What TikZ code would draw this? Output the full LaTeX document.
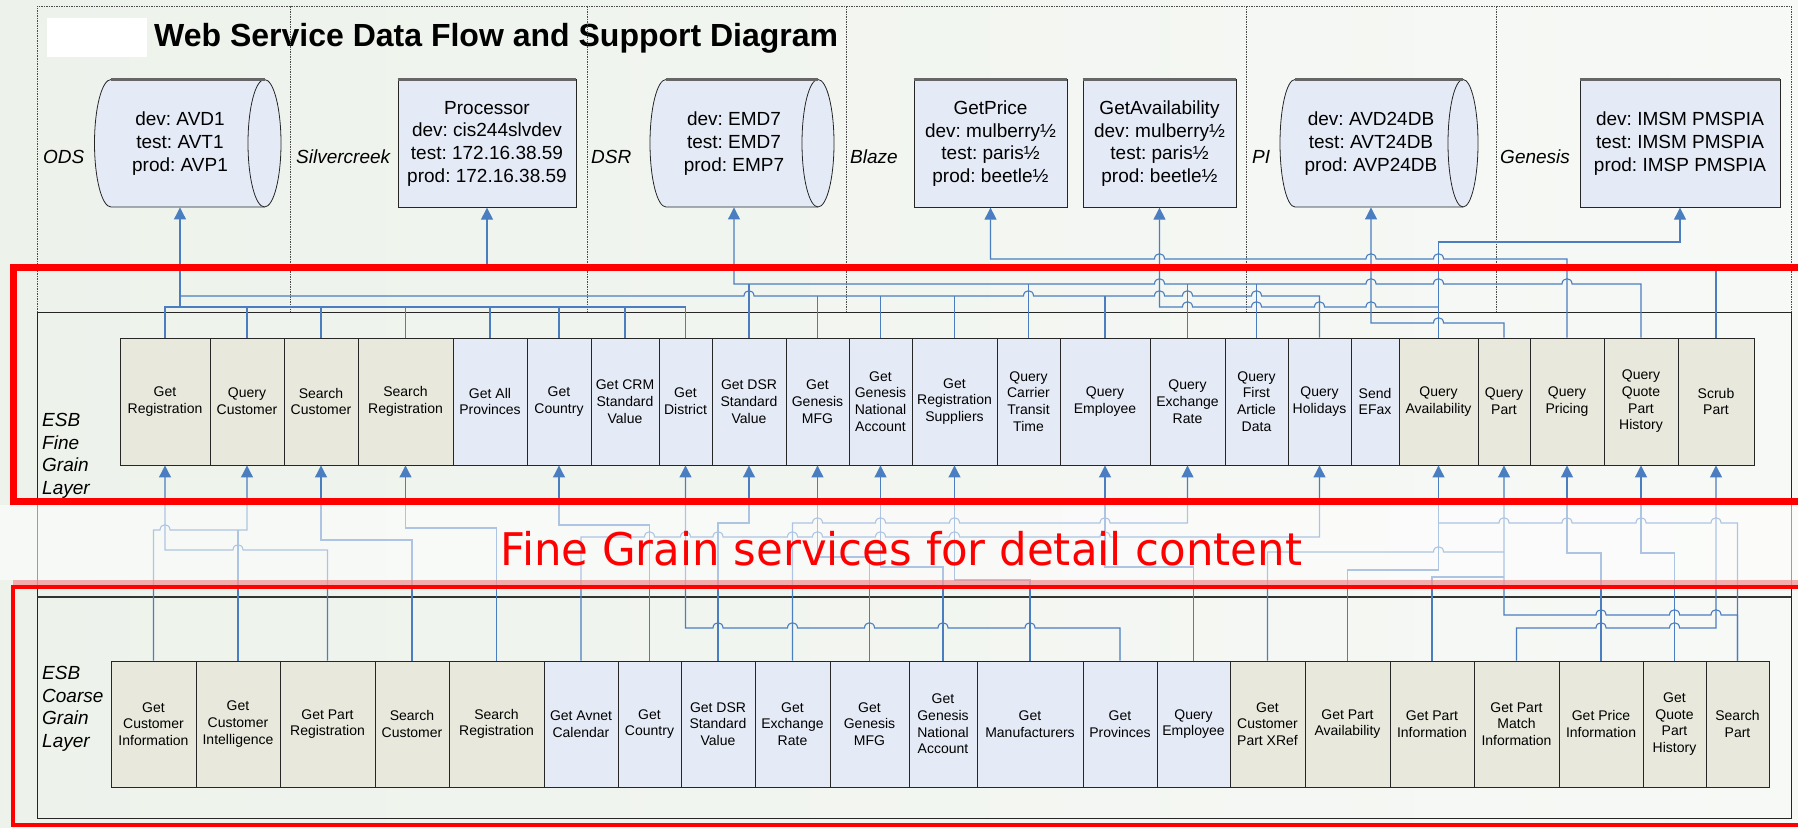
\documentclass[tikz,border=0pt]{standalone}
\usepackage{fontspec}
\usepackage{graphicx}
\setmainfont{Liberation Sans}
\newfontfamily\redfont{DejaVu Sans}
\usetikzlibrary{arrows.meta}
\frenchspacing
\definecolor{bgL}{HTML}{EDF2EB}
\definecolor{bgR}{HTML}{F7F9F6}
\definecolor{beige}{HTML}{E8E9DC}
\definecolor{lblue}{HTML}{E5EBF6}
\definecolor{cblue}{HTML}{4A7EC0}
\definecolor{pinkband}{HTML}{F2A0A0}

\newcommand{\hp}[2]{-- ({#1-5},#2) .. controls ({#1-5},{#2-7}) and ({#1+5},{#2-7}) .. ({#1+5},#2)}
\newcommand{\fsvc}[5]{\node[svc,fill=#4,minimum width={(#3-#2)*1pt},minimum height=127pt] (#1) at ({(#2+#3)/2},401.5) {#5};}
\newcommand{\csvc}[5]{\node[svc,fill=#4,minimum width={(#3-#2)*1pt},minimum height=126pt] (#1) at ({(#2+#3)/2},724) {#5};}
\newcommand{\cyl}[3]{%
  \filldraw[fill=lblue, draw=black!85, line width=0.8pt] (#1,79.5) -- (#2,79.5)
     arc[start angle=90, end angle=-90, x radius=#3pt, y radius=63.75pt] -- (#1,207)
     arc[start angle=270, end angle=90, x radius=#3pt, y radius=63.75pt] -- cycle;
  \draw[black!85, line width=0.8pt] (#2,79.5) arc[start angle=90, end angle=270, x radius=#3pt, y radius=63.75pt];
  \draw[black!60, line width=2.5pt] (#1,79.5) -- (#2,79.5);}
\newcommand{\topedge}[2]{\draw[black!60, line width=2.5pt] (#1.north west) -- (#1.north east);}

\begin{document}
\begin{tikzpicture}[x=1pt,y=-1pt,
  svc/.style={draw=black!85, line width=0.9pt, inner sep=0pt, align=center, font=\fontsize{14}{16.7}\selectfont},
  src/.style={inner sep=0pt, align=center, minimum height=127.5pt, font=\fontsize{19}{22.7}\selectfont},
  srcbox/.style={src, draw=black!85, line width=0.8pt, fill=lblue},
  conn/.style={draw=cblue, line width=1.1pt},
  >={Triangle[length=12pt,width=12pt]},
  lbl/.style={font=\fontsize{19}{22.6}\selectfont\itshape, align=left, inner sep=0pt},
  frame/.style={draw=black!70, line width=0.7pt, dash pattern=on 1.5pt off 1pt}]
\useasboundingbox (0,0) rectangle (1798,827);
\clip (0,0) rectangle (1798,827);
\shade[left color=bgL, right color=bgR] (0,0) rectangle (1798,827);
\fill[white] (47,18) rectangle (147,57);

% title
\node[anchor=base west, inner sep=0pt, font=\fontsize{32}{36}\selectfont\bfseries] (title) at (154,46) {Web Service Data Flow and Support Diagram};

% frames
\draw[frame] (37,312) -- (37,6) -- (1791,6) -- (1791,312);
\foreach \x in {290,587,846,1246,1496} \draw[frame] (\x,6) -- (\x,312);
\draw[black!85, line width=1pt] (37,312) rectangle (1791,597);
\draw[black!85, line width=1pt] (37,597) rectangle (1791,818);
\draw[black!80, line width=2pt] (37,597) -- (1791,597);

% labels
\node[lbl, anchor=west] (lfine) at (42,456) {ESB\\Fine\\Grain\\Layer};
\node[lbl, anchor=west] (lcoarse) at (42,709) {ESB\\Coarse\\Grain\\Layer};
\node[lbl, anchor=west] (lods) at (43,157) {ODS};
\node[lbl, anchor=west] (lsil) at (296,157) {Silvercreek};
\node[lbl, anchor=west] (ldsr) at (591,157) {DSR};
\node[lbl, anchor=west] (lblaze) at (850,157) {Blaze};
\node[lbl, anchor=west] (lpi) at (1252,157) {PI};
\node[lbl, anchor=west] (lgen) at (1500,157) {Genesis};

% sources
\cyl{111}{264.5}{16.5}
\node[src] (ods) at (180,143.5) {dev: AVD1\\test: AVT1\\prod: AVP1};
\node[srcbox, minimum width=178pt] (proc) at (487,143.5) {Processor\\dev: cis244slvdev\\test: 172.16.38.59\\prod: 172.16.38.59};
\topedge{proc}{}
\cyl{666}{818}{16}
\node[src] (dsr) at (734,143.5) {dev: EMD7\\test: EMD7\\prod: EMP7};
\node[srcbox, minimum width=153pt] (gprice) at (990.5,143.5) {GetPrice\\dev: mulberry½\\test: paris½\\prod: beetle½};
\topedge{gprice}{}
\node[srcbox, minimum width=153pt] (gavail) at (1159.5,143.5) {GetAvailability\\dev: mulberry½\\test: paris½\\prod: beetle½};
\topedge{gavail}{}
\cyl{1295}{1463}{15}
\node[src] (pi) at (1371,143.5) {dev: AVD24DB\\test: AVT24DB\\prod: AVP24DB};
\node[srcbox, minimum width=200pt] (gen) at (1680,143.5) {dev: IMSM PMSPIA\\test: IMSM PMSPIA\\prod: IMSP PMSPIA};
\topedge{gen}{}

% fine grain services
\fsvc{f1}{120}{210}{beige}{Get\\Registration}
\fsvc{f2}{210}{284}{beige}{Query\\Customer}
\fsvc{f3}{284}{358}{beige}{Search\\Customer}
\fsvc{f4}{358}{453}{beige}{Search\\Registration}
\fsvc{f5}{453}{527}{lblue}{Get All\\Provinces}
\fsvc{f6}{527}{591}{lblue}{Get\\Country}
\fsvc{f7}{591}{659}{lblue}{Get CRM\\Standard\\Value}
\fsvc{f8}{659}{712}{lblue}{Get\\District}
\fsvc{f9}{712}{786}{lblue}{Get DSR\\Standard\\Value}
\fsvc{f10}{786}{849}{lblue}{Get\\Genesis\\MFG}
\fsvc{f11}{849}{912}{lblue}{Get\\Genesis\\National\\Account}
\fsvc{f12}{912}{997}{lblue}{Get\\Registration\\Suppliers}
\fsvc{f13}{997}{1060}{lblue}{Query\\Carrier\\Transit\\Time}
\fsvc{f14}{1060}{1150}{lblue}{Query\\Employee}
\fsvc{f15}{1150}{1225}{lblue}{Query\\Exchange\\Rate}
\fsvc{f16}{1225}{1288}{lblue}{Query\\First\\Article\\Data}
\fsvc{f17}{1288}{1351}{lblue}{Query\\Holidays}
\fsvc{f18}{1351}{1399}{lblue}{Send\\EFax}
\fsvc{f19}{1399}{1478}{beige}{Query\\Availability}
\fsvc{f20}{1478}{1530}{beige}{Query\\Part}
\fsvc{f21}{1530}{1604}{beige}{Query\\Pricing}
\fsvc{f22}{1604}{1678}{beige}{Query\\Quote\\Part\\History}
\fsvc{f23}{1678}{1754}{beige}{Scrub\\Part}

% coarse grain services
\csvc{c1}{111}{196}{beige}{Get\\Customer\\Information}
\csvc{c2}{196}{280}{beige}{Get\\Customer\\Intelligence}
\csvc{c3}{280}{375}{beige}{Get Part\\Registration}
\csvc{c4}{375}{449}{beige}{Search\\Customer}
\csvc{c5}{449}{544}{beige}{Search\\Registration}
\csvc{c6}{544}{618}{lblue}{Get Avnet\\Calendar}
\csvc{c7}{618}{681}{lblue}{Get\\Country}
\csvc{c8}{681}{755}{lblue}{Get DSR\\Standard\\Value}
\csvc{c9}{755}{830}{lblue}{Get\\Exchange\\Rate}
\csvc{c10}{830}{909}{lblue}{Get\\Genesis\\MFG}
\csvc{c11}{909}{977}{lblue}{Get\\Genesis\\National\\Account}
\csvc{c12}{977}{1083}{lblue}{Get\\Manufacturers}
\csvc{c13}{1083}{1157}{lblue}{Get\\Provinces}
\csvc{c14}{1157}{1230}{lblue}{Query\\Employee}
\csvc{c15}{1230}{1305}{beige}{Get\\Customer\\Part XRef}
\csvc{c16}{1305}{1390}{beige}{Get Part\\Availability}
\csvc{c17}{1390}{1474}{beige}{Get Part\\Information}
\csvc{c18}{1474}{1559}{beige}{Get Part\\Match\\Information}
\csvc{c19}{1559}{1643}{beige}{Get Price\\Information}
\csvc{c20}{1643}{1706}{beige}{Get\\Quote\\Part\\History}
\csvc{c21}{1706}{1769}{beige}{Search\\Part}

% ---- connectors: fine grain -> sources
\draw[conn,<-] (ods.south) -- (180,307);
\draw[conn] (f1.north) -- (165,307) -- (685.5,307) -- (f8.north);
\foreach \n in {2,...,7} \draw[conn] (f\n.north) -- (f\n.north |- 0,307);
\draw[conn] (180,296) \hp{749}{296} \hp{1028.5}{296} \hp{1159.5}{296} \hp{1187.5}{296} \hp{1256.5}{296} -- (1319.5,296) -- (f17.north);
\foreach \n in {10,11,12,14} \draw[conn] (f\n.north) -- (f\n.north |- 0,296);
\draw[conn,<-] (proc.south) -- (487,267);
\draw[conn,<-] (dsr.south) -- (734,284) \hp{1159.5}{284} \hp{1371}{284} \hp{1438.5}{284} \hp{1567}{284} -- (1641,284) -- (f22.north);
\foreach \n in {9,13,15,16} \draw[conn] (f\n.north) -- (f\n.north |- 0,284);
\draw[conn,<-] (gprice.south) -- (990.5,259) \hp{1159.5}{259} \hp{1371}{259} \hp{1438.5}{259} -- (1567,259) -- (f21.north);
\draw[conn,<-] (gavail.south) -- (1159.5,307) \hp{1187.5}{307} \hp{1256.5}{307} \hp{1319.5}{307} \hp{1371}{307} -- (1438.5,307);
\draw[conn,<-] (pi.south) -- (1371,323) \hp{1438.5}{323} -- (1504,323) -- (f20.north);
\draw[conn,<-] (gen.south) -- (1680,242) -- (1438.5,242) -- (f19.north);
\draw[conn] (f23.north) -- (1716,267);

% ---- connectors: coarse grain -> fine grain
\draw[conn,->] (c1.north) -- (153.5,530) \hp{165}{530} -- (247,530) -- (f2.south);
\draw[conn] (c2.north) -- (238,530);
\draw[conn,<-] (f1.south) -- (165,550) \hp{238}{550} -- (327.5,550) -- (c3.north);
\draw[conn,<-] (f3.south) -- (321,540) -- (412,540) -- (c4.north);
\draw[conn,<-] (f4.south) -- (405.5,528) -- (496.5,528) -- (c5.north);
\draw[conn,<-] (f6.south) -- (559,525) -- (649.5,525) -- (c7.north);
\draw[conn,->] (c6.north) -- (581,537) \hp{649.5}{537} \hp{685.5}{537} \hp{718}{537} \hp{792.5}{537} \hp{817.5}{537} \hp{880.5}{537} \hp{954.5}{537} \hp{1105}{537} -- (1319.5,537) -- (f17.south);
\draw[conn,<-] (f8.south) -- (685.5,628) \hp{718}{628} \hp{792.5}{628} \hp{869.5}{628} \hp{943}{628} \hp{1030}{628} -- (1120,628) -- (c13.north);
\draw[conn,<-] (f9.south) -- (749,523) -- (718,523) -- (c8.north);
\draw[conn,->] (c9.north) -- (792.5,523) \hp{817.5}{523} \hp{880.5}{523} \hp{954.5}{523} \hp{1105}{523} -- (1187.5,523) -- (f15.south);
\draw[conn,<-] (f10.south) -- (817.5,557) -- (869.5,557) -- (c10.north);
\draw[conn,<-] (f11.south) -- (880.5,567) -- (943,567) -- (c11.north);
\draw[conn,<-] (f12.south) -- (954.5,580) -- (1030,580) -- (c12.north);
\draw[conn,<-] (f14.south) -- (1105,567) -- (1193.5,567) -- (c14.north);
\draw[conn,->] (c16.north) -- (1347.5,570) -- (1438.5,570) -- (f19.south);
\draw[conn] (1438.5,523) \hp{1504}{523} \hp{1567}{523} \hp{1641}{523} \hp{1716}{523} -- (1737.5,523) -- (c21.north);
\draw[conn,<-] (f20.south) -- (1504,615) \hp{1601}{615} \hp{1674.5}{615} \hp{1716}{615} -- (1737.5,615) -- (c21.north);
\draw[conn] (c15.north) -- (1267.5,552) \hp{1438.5}{552} -- (1504,552);
\draw[conn] (c17.north) -- (1432,577) -- (1504,577);
\draw[conn,->] (c18.north) -- (1516.5,628) \hp{1601}{628} \hp{1674.5}{628} -- (1716,628) -- (f23.south);
\draw[conn,<-] (f21.south) -- (1567,553) -- (1601,553) -- (c19.north);
\draw[conn,<-] (f22.south) -- (1641,553) -- (1674.5,553) -- (c20.north);

% overlay band
\fill[white, opacity=0.55] (0,505) rectangle (1798,580);

% red boxes
\draw[red, line width=7pt] (13,267) rectangle (1830,501);
\fill[pinkband, opacity=0.85] (13,580) rectangle (1798,586);
\draw[red, line width=3.5pt] (13,587) rectangle (1830,825);

\node[anchor=base west, inner sep=0pt, text=red, font={\fontsize{45}{50}\selectfont\redfont}] (fgtext) at (500,565) {\scalebox{0.966}[1]{Fine Grain services for detail content}};
\end{tikzpicture}
\end{document}
